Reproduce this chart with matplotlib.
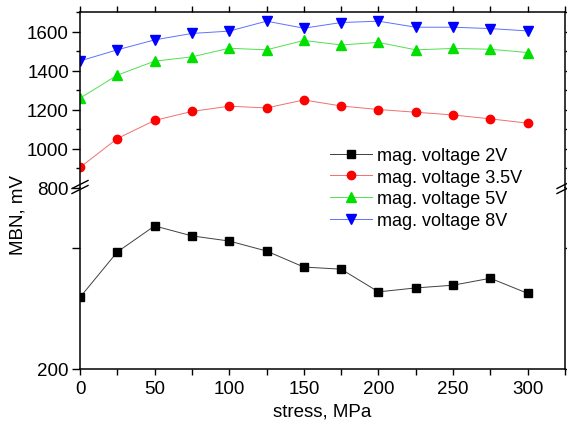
import matplotlib
matplotlib.use("Agg")
import matplotlib.pyplot as plt
from matplotlib.lines import Line2D
from matplotlib.ticker import MultipleLocator

plt.rcParams['font.family'] = ['Liberation Sans', 'DejaVu Sans']
plt.rcParams['font.size'] = 13.5

# data
stress = [0, 25, 50, 75, 100, 125, 150, 175, 200, 225, 250, 275, 300]
mbn_2v = [437, 587, 673, 640, 623, 590, 537, 530, 455, 468, 477, 500, 450]
mbn_35v = [903, 1051, 1144, 1190, 1217, 1208, 1249, 1218, 1200, 1186, 1172, 1152, 1130]
mbn_5v = [1258, 1376, 1448, 1470, 1514, 1506, 1554, 1531, 1544, 1506, 1513, 1509, 1492]
mbn_8v = [1449, 1506, 1557, 1590, 1602, 1653, 1617, 1646, 1653, 1622, 1622, 1615, 1603]
labels = ["mag. voltage 2V", "mag. voltage 3.5V", "mag. voltage 5V", "mag. voltage 8V"]

W, H = 567, 435
fig = plt.figure(figsize=(W / 100, H / 100), dpi=100)

# axes box in pixels: left 80, right 565, top 13, break 188, bottom 370
left, right, top, brk, bottom = 80, 565, 13, 188.5, 370
ax_up = fig.add_axes([left / W, 1 - brk / H, (right - left) / W, (brk - top) / H])
ax_lo = fig.add_axes([left / W, 1 - bottom / H, (right - left) / W, (bottom - brk) / H])

styles = [
    dict(color='#404040', mfc='black', mec='black', marker='s', ms=5.2),
    dict(color='#f07070', mfc='red', mec='red', marker='o', ms=6.0),
    dict(color='#50e050', mfc='#00e000', mec='#00e000', marker='^', ms=7.0),
    dict(color='#6070ff', mfc='blue', mec='blue', marker='v', ms=7.0),
]

handles = []
h, = ax_lo.plot(stress, mbn_2v, lw=0.7, **styles[0])
handles.append(h)
for vals, st in zip([mbn_35v, mbn_5v, mbn_8v], styles[1:]):
    h, = ax_up.plot(stress, vals, lw=0.7, **st)
    handles.append(h)

for ax in (ax_up, ax_lo):
    ax.set_xlim(0, 325)
    for s in ax.spines.values():
        s.set_linewidth(1.1)
    ax.xaxis.set_major_locator(MultipleLocator(50))
    ax.xaxis.set_minor_locator(MultipleLocator(25))
    ax.tick_params(which='both', direction='out', right=True, width=1.0)
    ax.tick_params(axis='y', which='major', length=6, pad=2)
    ax.tick_params(axis='y', which='minor', length=3)
    ax.tick_params(axis='x', which='both', length=4, pad=4)

ax_up.set_ylim(800, 1700)
ax_up.yaxis.set_major_locator(MultipleLocator(200))
ax_up.yaxis.set_minor_locator(MultipleLocator(100))
ax_up.spines['bottom'].set_visible(False)
ax_up.tick_params(axis='x', which='both', bottom=False, labelbottom=False, top=True)

ax_lo.set_ylim(200, 800)
ax_lo.set_yticks([200, 600])
ax_lo.set_yticklabels(['200', ''])
ax_lo.spines['top'].set_visible(False)
ax_lo.tick_params(axis='x', which='both', top=False)
ax_lo.set_xlabel('stress, MPa', labelpad=4)

fig.text(18 / W, 1 - 215 / H, 'MBN, mV', rotation=90, ha='center', va='center', fontsize=13.5)

# break marks on both vertical spines
for xc in (left, right):
    for dy in (-2.5, 2.5):
        y0 = brk + 3.5 + dy
        fig.add_artist(Line2D([(xc - 8) / W, (xc + 8) / W],
                              [1 - y0 / H, 1 - (y0 - 8) / H],
                              color='black', lw=1.0, transform=fig.transFigure))

fig.legend(handles, labels, loc='center left', bbox_to_anchor=(330 / W, 1 - 189 / H),
           frameon=False, handlelength=2.3, handletextpad=0.3, labelspacing=0.26,
           borderpad=0, borderaxespad=0, fontsize=13)

fig.savefig('out.png', dpi=100)
